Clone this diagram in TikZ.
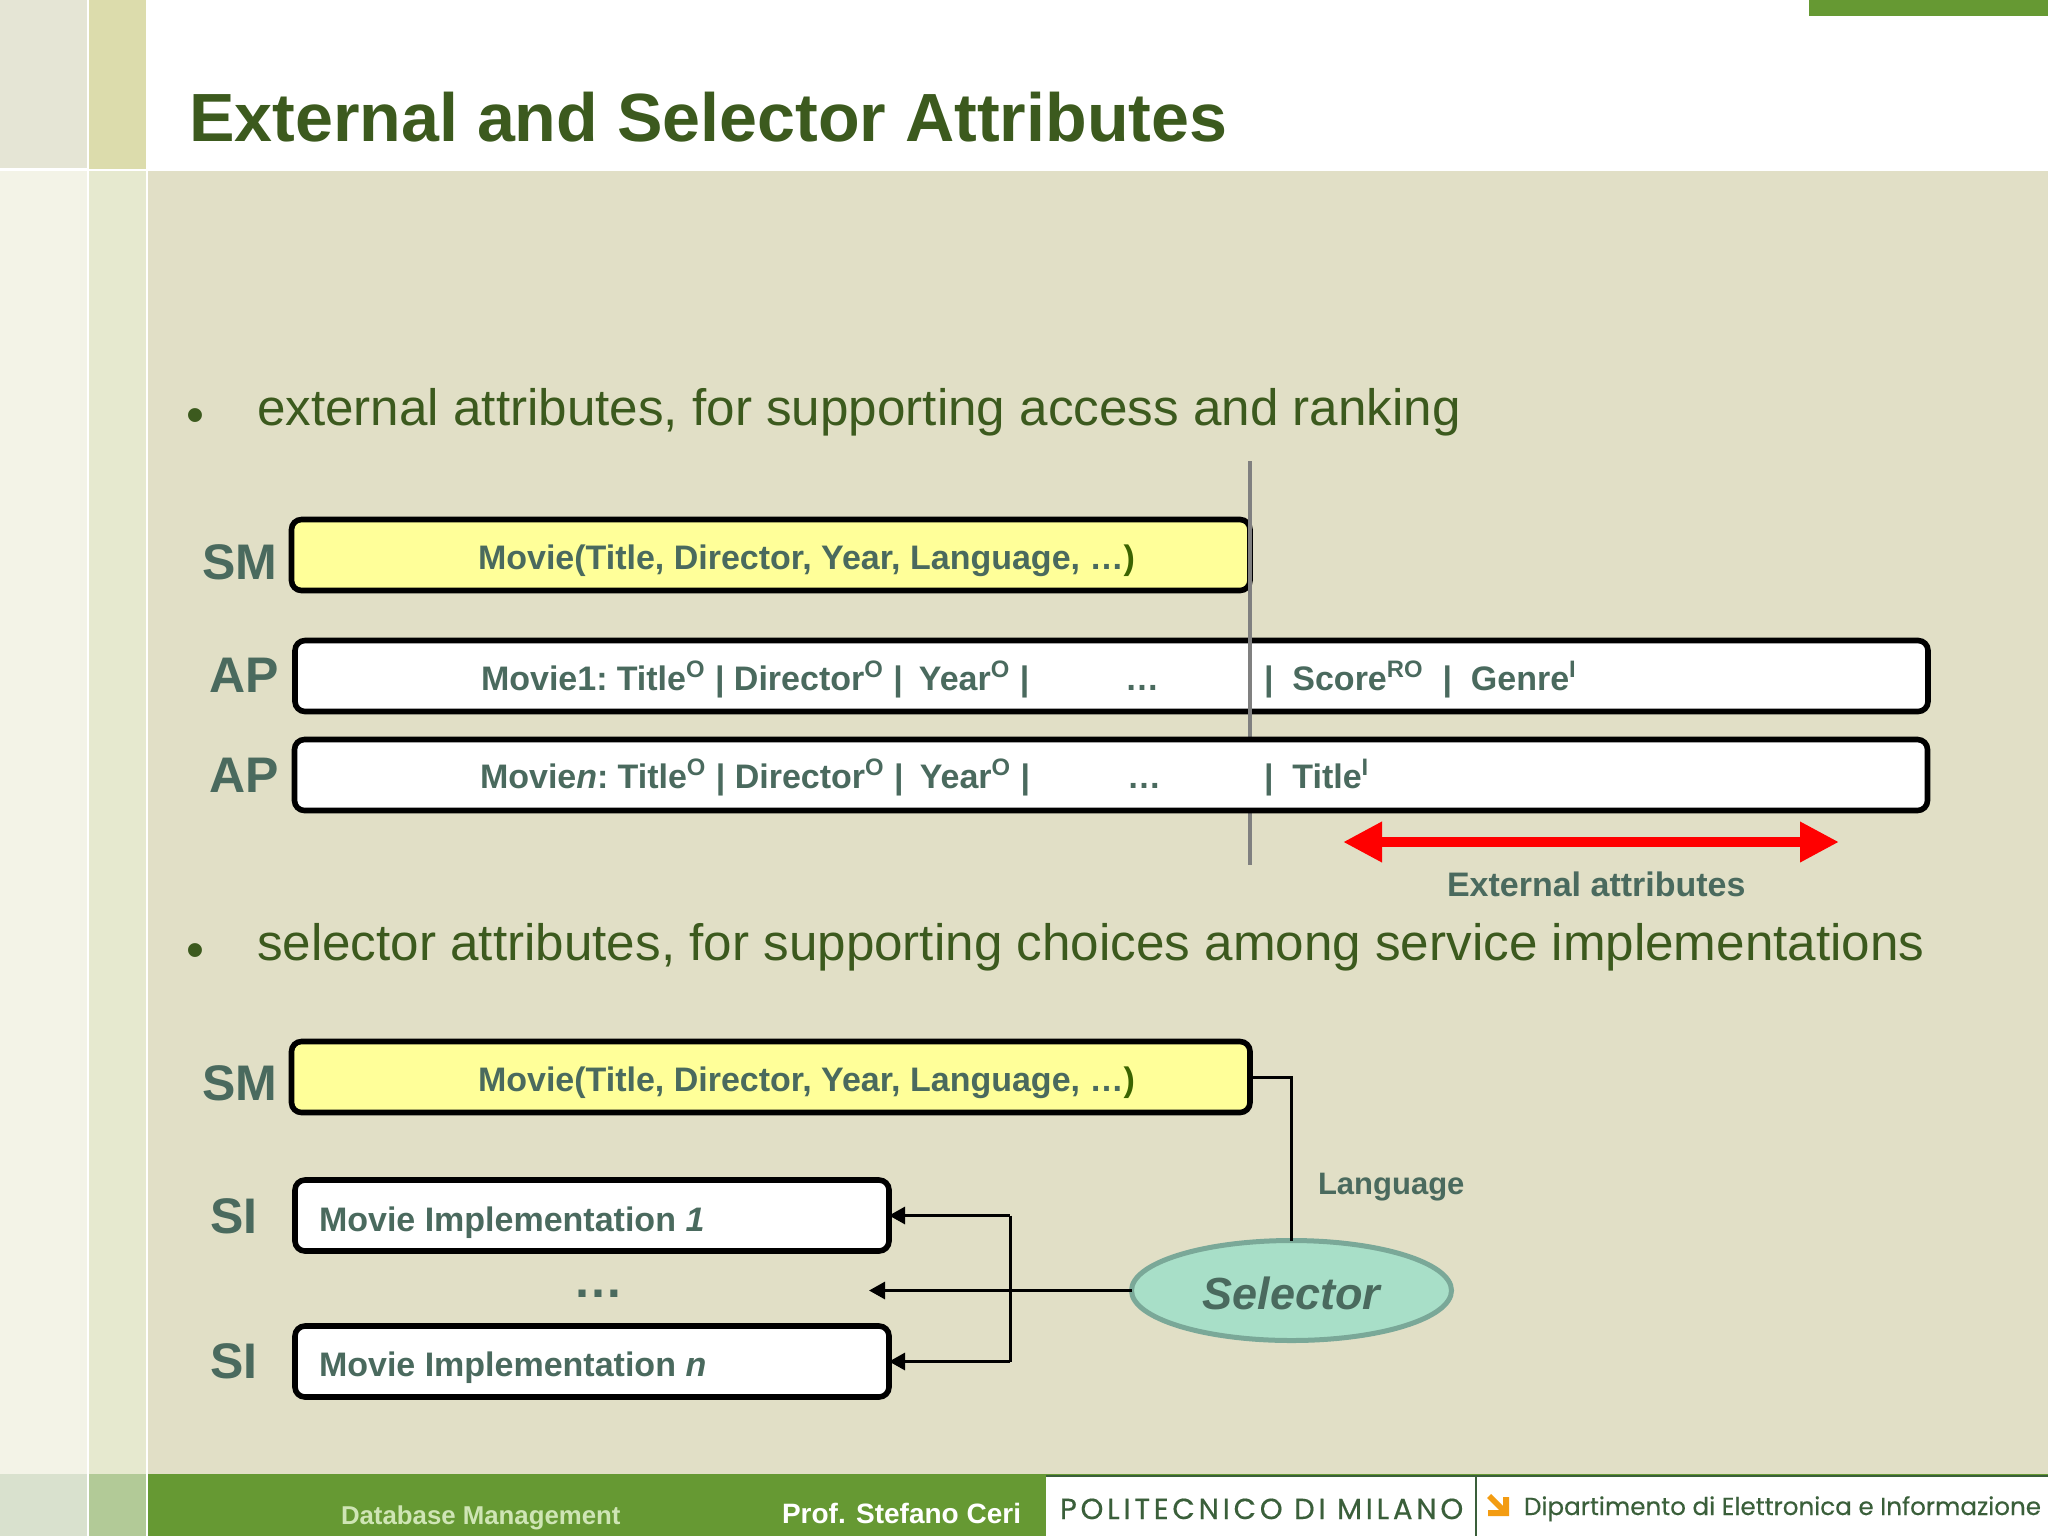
\documentclass[tikz,border=0pt]{standalone}
\usepackage{fontspec}
\setmainfont{Liberation Sans}
\newfontfamily\geo[FakeBold=0.4]{Poppins}
\newfontfamily\geosp[LetterSpace=13,FakeBold=0.5]{Poppins}
\usetikzlibrary{arrows.meta,shapes.geometric}
\definecolor{bodybg}{HTML}{E1DFC6}
\definecolor{footgreen}{HTML}{669933}
\definecolor{titlegreen}{HTML}{3C5A1E}
\definecolor{slate}{HTML}{4A6A5E}
\definecolor{darkfoot}{HTML}{3A5F3A}
\definecolor{ca}{HTML}{E5E5D5}
\definecolor{cb}{HTML}{DCDCAC}
\definecolor{cc}{HTML}{F3F3E7}
\definecolor{cd}{HTML}{E6E9CF}
\definecolor{ce}{HTML}{D9E1CE}
\definecolor{cf}{HTML}{B2CA97}
\definecolor{vline}{HTML}{808080}
\definecolor{parc}{HTML}{3B6400}
\definecolor{yelbox}{HTML}{FFFF99}
\definecolor{seldraw}{HTML}{7AA898}
\definecolor{selfill}{HTML}{A8DFC8}
\definecolor{footlight}{HTML}{CFE5B5}
\definecolor{orangeic}{HTML}{F39C12}
\newcommand{\px}[1]{\fontsize{\dimexpr#1pt/2\relax}{\dimexpr#1pt/2\relax}\selectfont}
\newcommand{\so}{\textsuperscript{O}}
\newcommand{\sgap}{\ \kern-0.08em\ }
\tikzset{
  x=0.5pt,y=-0.5pt,
  txt/.style={anchor=base west,inner sep=0pt,outer sep=0pt},
  lab/.style={txt,font=\px{50}\bfseries,text=slate},
  boxtxt/.style={txt,font=\fontsize{17pt}{17pt}\selectfont\bfseries,text=slate},
  bul/.style={txt,font=\fontsize{25.6pt}{25.6pt}\selectfont,text=titlegreen},
  bar/.style={draw=black,line width=2.8pt,rounded corners=5pt,inner sep=0pt,outer sep=0pt,anchor=north west},
  yel/.style={bar,fill=yelbox},
  wht/.style={bar,fill=white},
  conn/.style={draw=black,line width=1.5pt},
  tip/.style={-{Triangle[length=8pt,width=8.5pt]}},
}
\begin{document}
\begin{tikzpicture}
\useasboundingbox (0,0) rectangle (2048,1536);
\fill[white] (0,0) rectangle (2048,1536);
% background
\fill[bodybg] (148,171) rectangle (2048,1474);
\fill[ca] (0,0) rectangle (87,168);
\fill[cb] (89,0) rectangle (146,169);
\fill[cc] (0,171) rectangle (87,1474);
\fill[cd] (89,171) rectangle (146,1474);
\fill[ce] (0,1474) rectangle (87,1536);
\fill[cf] (89,1474) rectangle (146,1536);
\fill[footgreen] (148,1474) rectangle (2048,1536);
\fill[footgreen] (1809,0) rectangle (2048,16);
\fill[white] (1046,1476) rectangle (2048,1536);
\draw[darkfoot,line width=1.2pt] (1046,1476) -- (2048,1476);
\draw[darkfoot,line width=0.8pt] (1476,1476) -- (1476,1536);
% title
\node[txt,font=\fontsize{34.1pt}{34.1pt}\selectfont\bfseries,text=titlegreen] (title) at (189,141.5) {External and Selector Attributes};
% bullets
\node[bul] (b1) at (186,432) {•};
\node[bul] (t1) at (257,425) {external attributes, for supporting access and ranking};
\node[bul] (b2) at (186,967) {•};
\node[bul] (t2) at (257,960) {selector attributes, for supporting choices among service implementations};
% first group
\node[lab] (sm1) at (202,579) {SM};
\node[yel,minimum width=958.5*0.5pt,minimum height=71*0.5pt] (smb1) at (291.5,519.5) {};
\node[wht,minimum width=1633*0.5pt,minimum height=71*0.5pt] (ap1) at (295,640.5) {};
\coordinate (vtop) at (1250,461);
\coordinate (vbot) at (1250,865);
\draw[vline,line width=1.6pt] (vtop) -- (vbot);
\node[wht,minimum width=1633*0.5pt,minimum height=71*0.5pt] (ap2) at (294.5,739.5) {};
\node[lab] (apl1) at (209.5,692) {AP};
\node[lab] (apl2) at (209.5,792) {AP};
\node[boxtxt] (smt1) at (478,569) {Movie(Title, Director, Year, Language, …\textcolor{parc}{)}};
\node[boxtxt] (a1a) at (481,690) {Movie1:\kern-0.1em{} Title\so{} | Director\so{} |\sgap Year\so{} |};
\node[boxtxt] (a1b) at (1125,690) {…};
\node[boxtxt] (a1c) at (1264,690) {|\ \ Score\textsuperscript{RO}\ \ |\ \ Genre\textsuperscript{I}};
\node[boxtxt] (a2a) at (480,788) {Movie\textit{n}:\kern-0.1em{} Title\so{} | Director\so{} |\sgap Year\so{} |};
\node[boxtxt] (a2b) at (1127,788) {…};
\node[boxtxt] (a2c) at (1264,788) {|\ \ Title\textsuperscript{I}};
\coordinate (ra) at (1343,842);
\coordinate (rb) at (1839,842);
\draw[red,line width=5pt,{Triangle[length=19.5pt,width=19pt]}-{Triangle[length=19.5pt,width=19pt]}] (ra) -- (rb);
\node[boxtxt] (ext) at (1447,896) {External attributes};
% second group
\node[lab] (sm2) at (202,1100) {SM};
\node[yel,minimum width=958.5*0.5pt,minimum height=71*0.5pt] (smb2) at (291.5,1041.5) {};
\node[boxtxt] (smt2) at (478,1091) {Movie(Title, Director, Year, Language, …\textcolor{parc}{)}};
\node[lab] (si1) at (210,1233) {SI};
\node[lab] (si2) at (210,1378) {SI};
\node[wht,minimum width=594*0.5pt,minimum height=71*0.5pt] (sib1) at (295,1180) {};
\node[wht,minimum width=594*0.5pt,minimum height=71*0.5pt] (sib2) at (295,1326) {};
\node[boxtxt] (sit1) at (319,1231) {Movie Implementation \textit{1}};
\node[boxtxt] (sit2) at (319,1376) {Movie Implementation \textit{n}};
\node[anchor=base,inner sep=0pt,font=\px{50}\bfseries,text=slate] (dots) at (598,1297) {…};
\node[ellipse,draw=seldraw,fill=selfill,line width=2.5pt,minimum width=160pt,minimum height=50pt,inner sep=0pt,outer sep=0pt,font=\px{45}\bfseries\itshape,text=slate] (sel) at (1291.5,1290.5) {\raisebox{-9.25pt}[0pt][0pt]{Selector}};
\node[txt,font=\px{31}\bfseries,text=slate] (lang) at (1318,1194) {Language};
\coordinate (dotend) at (869,1290.5);
\draw[conn] (smb2.east) -| (sel.north);
\draw[conn,tip] (sel.west) -- (dotend);
\coordinate (brk) at (1010,0);
\draw[conn,tip] (brk |- sib1.east) -- (sib1.east);
\draw[conn,tip] (brk |- sib2.east) -- (sib2.east);
\draw[conn] (brk |- sib1.east) -- (brk |- sib2.east);
% footer
\node[txt,font=\fontsize{12.9pt}{12.9pt}\selectfont\bfseries,text=footlight] (f1) at (341,1524) {Database Management};
\node[txt,font=\fontsize{14pt}{14pt}\selectfont\bfseries,text=white] (f2) at (782,1523) {Prof. Stefano Ceri};
\node[txt,font=\geosp\px{29},text=darkfoot] (f3) at (1060,1519) {POLITECNICO DI MILANO};
\node[txt,font=\geo\fontsize{12.3pt}{12.3pt}\selectfont,text=darkfoot] (f4) at (1524,1515) {Dipartimento di Elettronica e Informazione};
\fill[orangeic] (1487,1498) -- (1491,1494) -- (1503,1506) -- (1503,1497) -- (1509,1497) -- (1509,1516) -- (1488,1516) -- (1488,1510) -- (1499,1510) -- cycle;
\end{tikzpicture}
\end{document}
